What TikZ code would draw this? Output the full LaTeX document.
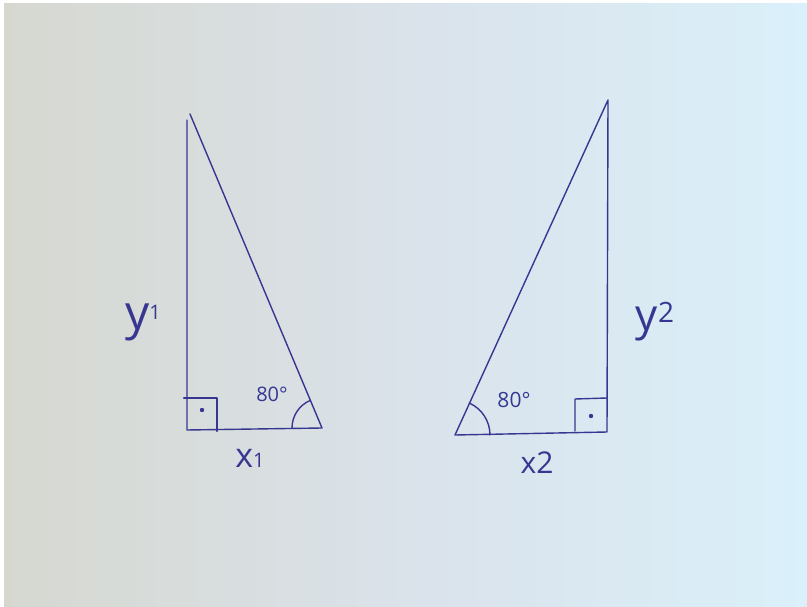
\documentclass[tikz,border=0pt]{standalone}
\usepackage{fontspec}
\setmainfont{Open Sans}
\definecolor{ink}{RGB}{55,55,145}
\definecolor{paperL}{RGB}{214,216,208}
\definecolor{paperM}{RGB}{218,226,234}
\definecolor{paperR}{RGB}{218,240,250}
\begin{document}
\begin{tikzpicture}[x=1pt,y=-1pt,
  pen/.style={draw=ink,line width=1.4pt,line cap=round,line join=round},
  lbl/.style={text=ink,inner sep=0pt},
  ]
\useasboundingbox (0,0) rectangle (807,607);
\fill[white] (0,0) rectangle (807,607);
\shade[left color=paperL,right color=paperR,middle color=paperM] (4,4) rectangle (807,607);
% left triangle
\coordinate (A1) at (187,120);
\coordinate (B1) at (187,430);
\coordinate (C1) at (322,428);
\coordinate (T1) at (190,114);
\draw[pen] (A1) -- (B1) -- (C1) -- (T1);
\coordinate (R1a) at (184,398);
\coordinate (R1b) at (217,398);
\coordinate (R1c) at (217,431);
\draw[pen,line width=2.4pt] (R1a) -- (R1b) -- (R1c);
\fill[ink] (202,410) circle (2.2);
\draw[pen] (292,428) arc[start angle=180,end angle=247,radius=30];
\node[lbl,font=\fontsize{20}{20}\selectfont] (a1) at (272,394) {80°};
\node[lbl,font=\fontsize{48}{48}\selectfont] (y1) at (143,322) {y\raisebox{10pt}{\fontsize{20}{20}\selectfont 1}};
\node[lbl,font=\fontsize{34}{34}\selectfont] (x1) at (250,458) {x\fontsize{20}{20}\selectfont 1};
% right triangle
\coordinate (T2) at (608,100);
\coordinate (B2) at (607,432);
\coordinate (A2) at (455,435);
\draw[pen] (T2) -- (B2) -- (A2) -- cycle;
\coordinate (R2a) at (575,431);
\coordinate (R2b) at (575,399);
\coordinate (R2c) at (607,398);
\draw[pen] (R2a) -- (R2b) -- (R2c);
\fill[ink] (591,416) circle (2.2);
\draw[pen] (490,435) arc[start angle=0,end angle=-66,radius=35];
\node[lbl,font=\fontsize{21}{21}\selectfont] (a2) at (514,400) {80°};
\node[lbl,font=\fontsize{44}{44}\selectfont] (y2) at (655,322) {y\raisebox{8pt}{\fontsize{28}{28}\selectfont 2}};
\node[lbl,font=\fontsize{30}{30}\selectfont] (x2) at (537,463) {x2};
\end{tikzpicture}
\end{document}
